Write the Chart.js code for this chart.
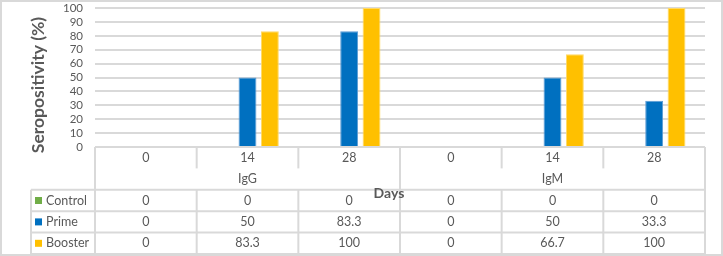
<!DOCTYPE html>
<html>
<head>
<meta charset="utf-8">
<script src="https://cdn.jsdelivr.net/npm/chart.js@4"></script>
<style>
  body { margin: 0; background: #fff; }
  canvas { display: block; }
</style>
</head>
<body>
<canvas id="grafica" width="723" height="256"></canvas>
<script>
// Datos
const categorias = ['0', '14', '28', '0', '14', '28'];
const grupos = ['IgG', 'IgM'];
const control = [0, 0, 0, 0, 0, 0];
const prime = [0, 50, 83.3, 0, 50, 33.3];
const booster = [0, 83.3, 100, 0, 66.7, 100];

const gris = '#595959';
const linea = '#d9d9d9';

Chart.defaults.font.family = 'Lato';
Chart.defaults.color = gris;

// Tabla de datos debajo del gráfico
const tablaPlugin = {
  id: 'tabla',
  afterDraw(chart) {
    const ctx = chart.ctx;
    const a = chart.chartArea;
    const n = categorias.length;
    const colW = (a.right - a.left) / n;
    const rh = 21.4;
    const y0 = a.bottom;
    const yRows = [y0, y0 + rh, y0 + 2 * rh, y0 + 3 * rh, y0 + 4 * rh, y0 + 5 * rh];
    const legX = 31;

    ctx.save();
    ctx.strokeStyle = linea;
    ctx.lineWidth = 2;
    const line = (x1, y1, x2, y2) => {
      ctx.beginPath(); ctx.moveTo(x1, y1); ctx.lineTo(x2, y2); ctx.stroke();
    };

    // horizontales
    line(legX, yRows[2], a.right, yRows[2]);
    line(legX, yRows[3], a.right, yRows[3]);
    line(legX, yRows[4], a.right, yRows[4]);
    line(legX, yRows[5], a.right, yRows[5]);
    line(legX, yRows[2], legX, yRows[5]);

    // verticales
    for (let i = 0; i <= n; i++) {
      const x = a.left + i * colW;
      if (i % 3 === 0) {
        line(x, y0, x, yRows[5]);
      } else {
        line(x, y0, x, yRows[1]);
        line(x, yRows[2], x, yRows[5]);
      }
    }

    ctx.textAlign = 'center';
    ctx.textBaseline = 'middle';
    ctx.fillStyle = gris;
    ctx.font = '12.5px Lato';
    categorias.forEach((c, i) => {
      ctx.fillText(c, a.left + (i + 0.5) * colW, yRows[0] + rh / 2);
    });
    grupos.forEach((g, i) => {
      ctx.fillText(g, a.left + (i * 3 + 1.5) * colW, yRows[1] + rh / 2);
    });

    chart.data.datasets.forEach((ds, r) => {
      const yc = yRows[2 + r] + rh / 2;
      ds.data.forEach((v, i) => {
        ctx.fillStyle = gris;
        ctx.textAlign = 'center';
        ctx.fillText(String(v), a.left + (i + 0.5) * colW, yc);
      });
      ctx.fillStyle = ds.backgroundColor;
      ctx.fillRect(35, yc - 3.5, 7, 7);
      ctx.fillStyle = gris;
      ctx.textAlign = 'left';
      ctx.fillText(ds.label, 46, yc);
    });

    // títulos de ejes
    ctx.font = 'bold 14px Lato';
    ctx.textAlign = 'center';
    ctx.fillText('Days', 389, 193);

    ctx.save();
    ctx.translate(38, 85);
    ctx.rotate(-Math.PI / 2);
    ctx.font = 'bold 17.5px Lato';
    ctx.fillText('Seropositivity (%)', 0, 0);
    ctx.restore();

    // marco
    ctx.strokeStyle = linea;
    ctx.lineWidth = 2;
    ctx.strokeRect(1, 1, chart.width - 2, chart.height - 2);
    ctx.restore();
  }
};

const ctx = document.getElementById('grafica').getContext('2d');
const myChart = new Chart(ctx, {
  type: 'bar',
  data: {
    labels: categorias,
    datasets: [
      { label: 'Control', data: control, backgroundColor: '#70AD47', borderColor: '#9BC97E', borderWidth: 1 },
      { label: 'Prime', data: prime, backgroundColor: '#0070C0', borderColor: '#5B9BD5', borderWidth: 1 },
      { label: 'Booster', data: booster, backgroundColor: '#FFC000', borderColor: '#FFD966', borderWidth: 1 }
    ]
  },
  options: {
    responsive: false,
    animation: false,
    devicePixelRatio: 1,
    layout: { padding: { top: 8, bottom: 109, right: 18, left: 0 } },
    datasets: { bar: { categoryPercentage: 0.66, barPercentage: 0.8 } },
    plugins: { legend: { display: false }, tooltip: { enabled: false } },
    scales: {
      x: { display: false },
      y: {
        min: 0,
        max: 100,
        afterFit: (scale) => { scale.width = 95; },
        ticks: { stepSize: 10, autoSkip: false, padding: 0, font: { size: 11.5 }, color: gris },
        grid: { color: linea, lineWidth: 2, drawTicks: true, tickLength: 12, tickColor: 'rgba(0,0,0,0)' },
        border: { display: false }
      }
    }
  },
  plugins: [tablaPlugin]
});
</script>
</body>
</html>
